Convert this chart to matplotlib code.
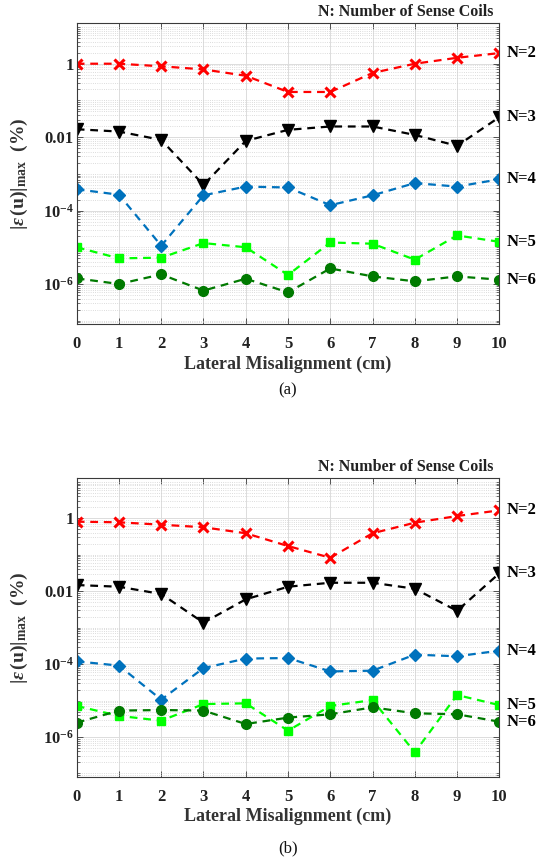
import numpy as np
import matplotlib
matplotlib.use('Agg')
import matplotlib.pyplot as plt
from matplotlib.ticker import FixedLocator, FixedFormatter, LogLocator, NullFormatter

plt.rcParams['font.family'] = 'Liberation Serif'
plt.rcParams['font.weight'] = 'bold'
plt.rcParams['mathtext.fontset'] = 'custom'
plt.rcParams['mathtext.rm'] = 'Liberation Serif:bold'
plt.rcParams['mathtext.bf'] = 'Liberation Serif:bold'
plt.rcParams['mathtext.it'] = 'Liberation Serif:italic:bold'

#-----------------------------------------------------------------------------------------------------------------------
# data

misalignment = [0, 1, 2, 3, 4, 5, 6, 7, 8, 9, 10]  # cm

# (a)
a_n2 = [1.0, 1.0, 0.85, 0.7, 0.47, 0.17, 0.17, 0.56, 1.0, 1.45, 1.95]
a_n3 = [0.0164, 0.0142, 0.0084, 5.0e-4, 0.0079, 0.0158, 0.0195, 0.0195, 0.0115, 0.0058, 0.035]
a_n4 = [3.8e-4, 2.7e-4, 1.1e-5, 2.6e-4, 4.5e-4, 4.25e-4, 1.4e-4, 2.6e-4, 5.6e-4, 4.5e-4, 7.1e-4]
a_n5 = [1.0e-5, 5.0e-6, 5.2e-6, 1.3e-5, 1.0e-5, 1.76e-6, 1.35e-5, 1.25e-5, 4.6e-6, 2.1e-5, 1.41e-5]
a_n6 = [1.42e-6, 1.0e-6, 1.82e-6, 6.6e-7, 1.39e-6, 5.9e-7, 2.65e-6, 1.61e-6, 1.18e-6, 1.61e-6, 1.31e-6]

# (b)
b_n2 = [0.81, 0.78, 0.67, 0.57, 0.39, 0.174, 0.083, 0.39, 0.76, 1.16, 1.66]
b_n3 = [0.0148, 0.0133, 0.0084, 0.00137, 0.006, 0.0133, 0.0171, 0.0171, 0.0117, 0.0029, 0.031]
b_n4 = [1.19e-4, 9.1e-5, 1.06e-5, 7.8e-5, 1.42e-4, 1.47e-4, 6.3e-5, 6.6e-5, 1.82e-4, 1.64e-4, 2.34e-4]
b_n5 = [7.1e-6, 3.8e-6, 2.8e-6, 8.0e-6, 8.4e-6, 1.49e-6, 7.1e-6, 1.03e-5, 3.8e-7, 1.42e-5, 7.5e-6]
b_n6 = [2.47e-6, 5.3e-6, 5.5e-6, 5.3e-6, 2.27e-6, 3.4e-6, 4.2e-6, 6.5e-6, 4.47e-6, 4.2e-6, 2.63e-6]

series_labels = ['N=2', 'N=3', 'N=4', 'N=5', 'N=6']
y_ticks = [1e-6, 1e-4, 1e-2, 1]
y_tick_labels = [r'$10^{-6}$', r'$10^{-4}$', '0.01', '1']

#-----------------------------------------------------------------------------------------------------------------------
# styles

styles = [
    dict(color='#ff0000', marker='x', ms=7, mew=2.2),
    dict(color='#000000', marker='v', ms=8, mew=1),
    dict(color='#0072bd', marker='D', ms=6.5, mew=1),
    dict(color='#00ff00', marker='s', ms=6, mew=1),
    dict(color='#007a00', marker='o', ms=7, mew=1),
]

fig = plt.figure(figsize=(5.38, 8.61), dpi=100)

ax_a = fig.add_axes([0.1426, 0.6237, 0.7855, 0.3492])
ax_b = fig.add_axes([0.1426, 0.0979, 0.7855, 0.3466])


def draw_panel(ax, data, tag, tag_y):
    for values, label, st in zip(data, series_labels, styles):
        ax.plot(misalignment, values, linestyle='--', dashes=(3.5, 2.6), lw=1.6,
                color=st['color'], marker=st['marker'], ms=st['ms'],
                mew=st['mew'], mec=st['color'], mfc=st['color'])
        ax.annotate(label, xy=(misalignment[-1], values[-1]), xytext=(7, 0),
                    textcoords='offset pixels', va='center', ha='left',
                    fontsize=12, fontweight='bold', annotation_clip=False)

    ax.set_yscale('log')
    ax.set_xlim(0, 10)
    ax.set_ylim(10 ** -7.09, 10 ** 1.1)
    ax.set_xticks(misalignment)
    ax.yaxis.set_major_locator(FixedLocator(y_ticks))
    ax.yaxis.set_major_formatter(FixedFormatter(y_tick_labels))
    ax.yaxis.set_minor_locator(LogLocator(base=10, subs=np.arange(1, 10), numticks=60))
    ax.yaxis.set_minor_formatter(NullFormatter())

    ax.tick_params(which='both', direction='in', top=True, right=True, colors='#3a3a3a',
                   labelcolor='#222222', labelsize=12)
    ax.tick_params(which='major', length=4, width=0.6)
    ax.tick_params(which='minor', length=2, width=0.5)
    ax.tick_params(axis='x', pad=9)
    ax.tick_params(axis='y', pad=2)

    ax.xaxis.grid(True, which='major', color='#dcdcdc', lw=0.7)
    ax.yaxis.grid(True, which='major', color='#dcdcdc', lw=0.7)
    ax.yaxis.grid(True, which='minor', color='#d0d0d0', lw=0.6, ls=':')
    ax.set_axisbelow(True)
    for sp in ax.spines.values():
        sp.set_color('#3a3a3a')
        sp.set_linewidth(0.8)

    ax.set_xlabel('Lateral Misalignment (cm)', fontsize=13, fontweight='bold',
                  color='#333333', labelpad=2)
    ax.set_ylabel(r'$|\varepsilon\,(\mathbf{u})|_{\mathbf{max}}\ \ (\%)$', fontsize=14,
                  color='#333333', labelpad=9)
    ax.text(0.987, 1.012, 'N: Number of Sense Coils', transform=ax.transAxes,
            ha='right', va='bottom', fontsize=11.5, fontweight='bold', color='#222222')
    fig.text(0.535, tag_y, tag, ha='center', va='center', fontsize=12,
             fontweight='normal', color='#111111')


draw_panel(ax_a, [a_n2, a_n3, a_n4, a_n5, a_n6], '(a)', 1 - 390 / 861)
draw_panel(ax_b, [b_n2, b_n3, b_n4, b_n5, b_n6], '(b)', 1 - 848 / 861)

fig.savefig('out.png', dpi=100)
